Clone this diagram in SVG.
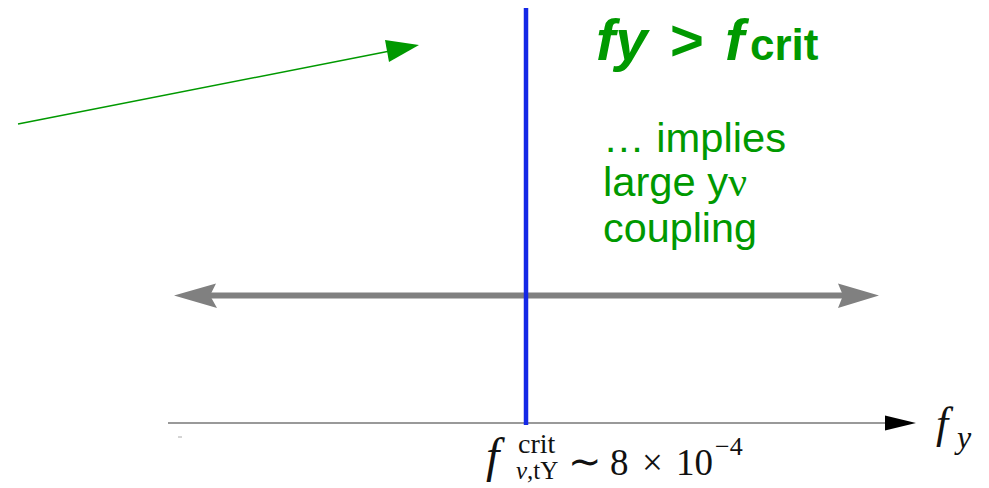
<svg xmlns="http://www.w3.org/2000/svg" width="989" height="488" viewBox="0 0 989 488">
<style>
.g{fill:#009900;font-family:"Liberation Sans",Arial,sans-serif}
.m{font-family:"Liberation Serif","Times New Roman",serif;fill:#111}
</style>
<rect width="989" height="488" fill="#fff"/>
<g id="connectors">
<line x1="168" y1="423" x2="887" y2="423" stroke="#999" stroke-width="2"/>
<path d="M885,415.5 L916,423 L885,430.5 z" fill="#000"/>
<line x1="178" y1="437" x2="182" y2="437" stroke="#aaa" stroke-width="1"/>
<line x1="205" y1="295.5" x2="848" y2="295.5" stroke="#808080" stroke-width="6"/>
<path d="M174,295.5 L216,283.5 L210,295.5 L217,308 z" fill="#808080"/>
<path d="M879,295.5 L838,283.5 L843,295.5 L838,308 z" fill="#808080"/>
<line x1="526" y1="8" x2="526" y2="425" stroke="#1428e6" stroke-width="4.5"/>
<line x1="18" y1="124" x2="390" y2="51" stroke="#009900" stroke-width="1.5"/>
<path d="M419,45 L385,40 L389,62 z" fill="#009900"/>
</g>
<g id="title">
<text class="g" y="60" font-weight="bold"><tspan x="596" font-size="58" font-style="italic">fy</tspan><tspan x="670" font-size="58">&gt;</tspan><tspan x="725" font-size="58" font-style="italic">f</tspan><tspan x="750" font-size="44">crit</tspan></text>
</g>
<g id="note">
<text class="g" font-size="40">
<tspan x="603" y="152" textLength="183" lengthAdjust="spacingAndGlyphs">… implies</tspan>
<tspan x="603" y="196" textLength="144" lengthAdjust="spacingAndGlyphs">large y<tspan font-family="Liberation Serif,serif">ν</tspan></tspan>
<tspan x="603" y="242" textLength="154" lengthAdjust="spacingAndGlyphs">coupling</tspan>
</text>
</g>
<g id="axis-label">
<text class="m" font-size="44" font-style="italic" x="936" y="438">f</text>
<text class="m" font-size="32" font-style="italic" x="957" y="448">y</text>
</g>
<g id="crit-label">
<text class="m" font-size="48" font-style="italic" x="486" y="472">f</text>
<text class="m" font-size="28" x="518" y="453">crit</text>
<text class="m" font-size="25" x="516" y="479"><tspan font-style="italic">ν</tspan>,tY</text>
<text class="m" font-size="40" x="568" y="475">∼</text>
<text class="m" font-size="37" x="610" y="475">8</text>
<text class="m" font-size="37" x="642" y="475">×</text>
<text class="m" font-size="37" x="676" y="475">10</text>
<text class="m" font-size="26" x="715" y="455">−4</text>
</g>
</svg>
